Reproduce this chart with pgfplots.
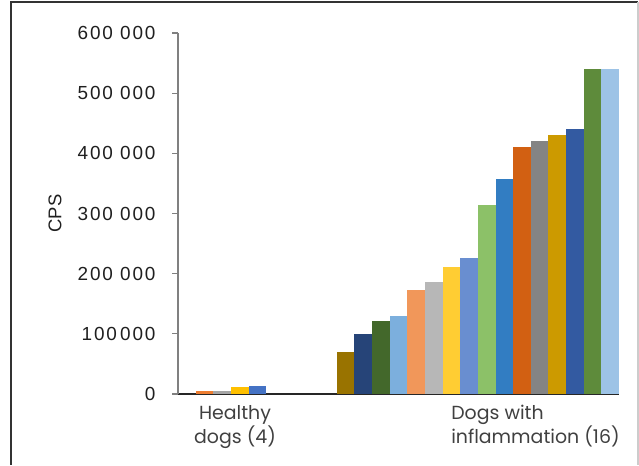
\documentclass[border=0pt]{standalone}
\usepackage{pgfplots}
\pgfplotsset{compat=1.18}
\usepackage{fontspec}
\setmainfont{Liberation Sans}
\newfontfamily\tickfont[LetterSpace=10]{Liberation Sans}
\newfontfamily\popfont{Poppins}
\definecolor{h1}{HTML}{ED7D31}
\definecolor{h2}{HTML}{A5A5A5}
\definecolor{h3}{HTML}{FFC000}
\definecolor{h4}{HTML}{4472C4}
\definecolor{d1}{HTML}{997300}
\definecolor{d2}{HTML}{264478}
\definecolor{d3}{HTML}{43682B}
\definecolor{d4}{HTML}{7CAFDD}
\definecolor{d5}{HTML}{F1975A}
\definecolor{d6}{HTML}{B7B7B7}
\definecolor{d7}{HTML}{FFCD33}
\definecolor{d8}{HTML}{698ED0}
\definecolor{d9}{HTML}{8CC168}
\definecolor{d10}{HTML}{327DC2}
\definecolor{d11}{HTML}{D26012}
\definecolor{d12}{HTML}{848484}
\definecolor{d13}{HTML}{CC9A00}
\definecolor{d14}{HTML}{335AA1}
\definecolor{d15}{HTML}{5E8B3B}
\definecolor{d16}{HTML}{9DC3E6}
\definecolor{labgray}{HTML}{404040}
\begin{document}
\begin{tikzpicture}[x=1bp,y=1bp]
\path (0,0) rectangle (639,465);
\begin{axis}[
  at={(178bp,71bp)}, anchor=south west,
  scale only axis, width=441bp, height=361bp,
  xmin=0, xmax=25, ymin=0, ymax=600000,
  axis x line=bottom, axis y line=left,
  x axis line style={-, draw=black!85, line width=1.6bp},
  y axis line style={-, draw=black!50, line width=1.1bp},
  xtick=\empty,
  ytick={0,100000,200000,300000,400000,500000,600000},
  yticklabels={0,100\,000,200 000,300 000,400 000,500 000,600 000},
  scaled y ticks=false,
  tick align=outside, major tick length=6bp,
  y tick style={draw=black!50, line width=1.1bp},
  yticklabel style={font=\tickfont\fontsize{19}{22}\selectfont, text=black!88, anchor=east, xshift=-13bp},
  clip=false,
]
\addplot[ybar, bar width=1, bar shift=0pt, fill=h1, draw=none] coordinates {(1.5,5500)};
\addplot[ybar, bar width=1, bar shift=0pt, fill=h2, draw=none] coordinates {(2.5,5500)};
\addplot[ybar, bar width=1, bar shift=0pt, fill=h3, draw=none] coordinates {(3.5,12200)};
\addplot[ybar, bar width=1, bar shift=0pt, fill=h4, draw=none] coordinates {(4.5,13900)};
\addplot[ybar, bar width=1, bar shift=0pt, fill=d1, draw=none] coordinates {(9.5,70000)};
\addplot[ybar, bar width=1, bar shift=0pt, fill=d2, draw=none] coordinates {(10.5,100000)};
\addplot[ybar, bar width=1, bar shift=0pt, fill=d3, draw=none] coordinates {(11.5,121000)};
\addplot[ybar, bar width=1, bar shift=0pt, fill=d4, draw=none] coordinates {(12.5,129500)};
\addplot[ybar, bar width=1, bar shift=0pt, fill=d5, draw=none] coordinates {(13.5,172700)};
\addplot[ybar, bar width=1, bar shift=0pt, fill=d6, draw=none] coordinates {(14.5,186000)};
\addplot[ybar, bar width=1, bar shift=0pt, fill=d7, draw=none] coordinates {(15.5,211000)};
\addplot[ybar, bar width=1, bar shift=0pt, fill=d8, draw=none] coordinates {(16.5,226000)};
\addplot[ybar, bar width=1, bar shift=0pt, fill=d9, draw=none] coordinates {(17.5,314000)};
\addplot[ybar, bar width=1, bar shift=0pt, fill=d10, draw=none] coordinates {(18.5,357000)};
\addplot[ybar, bar width=1, bar shift=0pt, fill=d11, draw=none] coordinates {(19.5,410000)};
\addplot[ybar, bar width=1, bar shift=0pt, fill=d12, draw=none] coordinates {(20.5,420000)};
\addplot[ybar, bar width=1, bar shift=0pt, fill=d13, draw=none] coordinates {(21.5,430000)};
\addplot[ybar, bar width=1, bar shift=0pt, fill=d14, draw=none] coordinates {(22.5,441000)};
\addplot[ybar, bar width=1, bar shift=0pt, fill=d15, draw=none] coordinates {(23.5,540000)};
\addplot[ybar, bar width=1, bar shift=0pt, fill=d16, draw=none] coordinates {(24.5,540000)};
\node[anchor=north, align=center, inner sep=0pt, text=labgray, font=\popfont\fontsize{19}{24}\selectfont, yshift=-11bp] at (axis cs:3.23,0) {Healthy\\dogs (4)};
\node[anchor=north west, align=left, inner sep=0pt, text=labgray, font=\popfont\fontsize{19}{24}\selectfont, yshift=-11bp] at (axis cs:15.48,0) {Dogs with\\inflammation (16)};
\node[rotate=90, font=\fontsize{18.5}{22}\selectfont, text=black!88] at ([xshift=-123bp]rel axis cs:0,0.5) {CPS};
\end{axis}
\draw[draw=black!80, line width=1.3bp] (11,0) -- (11,463) -- (638,463);
\draw[draw=black!20, line width=1.1bp] (638,463) -- (638,0);
\end{tikzpicture}
\end{document}
